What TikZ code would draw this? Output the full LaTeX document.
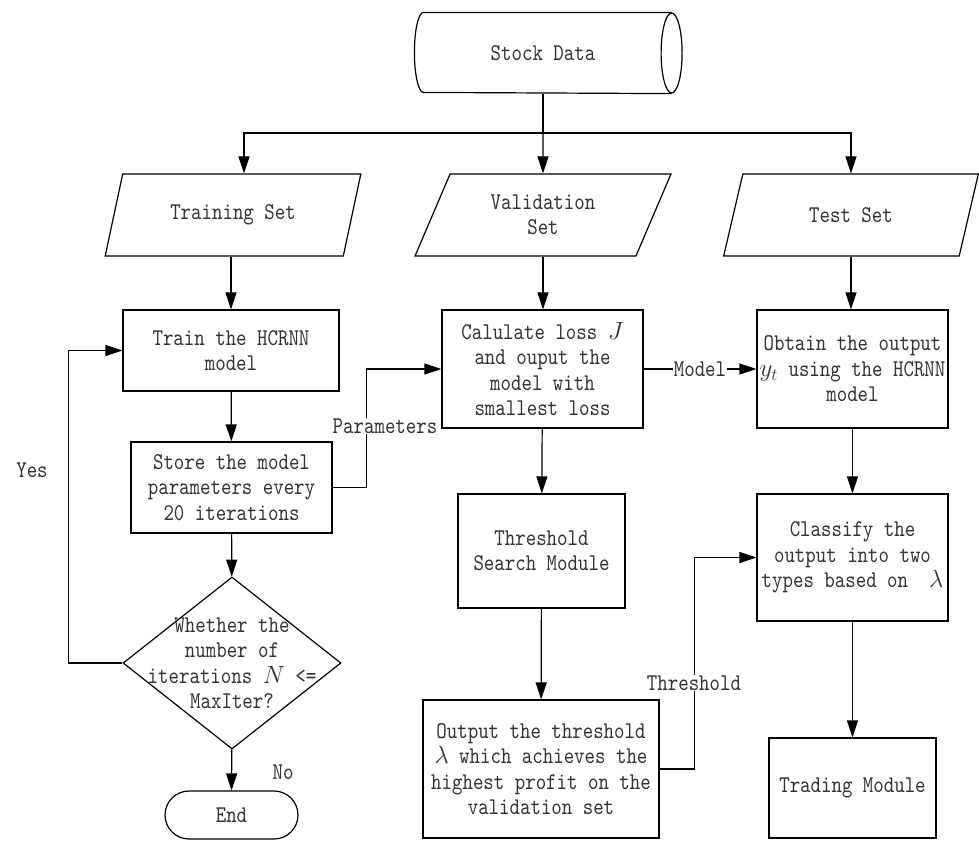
\documentclass[tikz,border=0pt]{standalone}
\usepackage{fontspec}
\usepackage{tikz}
\usetikzlibrary{shapes.geometric,arrows.meta,calc}
\newfontfamily\flowfont[FakeStretch=0.83]{lmmono10-regular.otf}
\definecolor{inkgray}{rgb}{0.2,0.2,0.2}

\begin{document}
\begin{tikzpicture}[x=1pt, y=-1pt, line width=1.2pt,
	every node/.style={font=\flowfont\fontsize{24}{25.5}\selectfont, text=inkgray, align=center},
	proc/.style={draw, rectangle, inner sep=0pt},
	dataio/.style={draw, trapezium, trapezium left angle=64, trapezium right angle=116,
		trapezium stretches=true, minimum width=256pt, minimum height=82pt, inner sep=0pt},
	arr/.style={-{Triangle[length=17pt,width=11pt]}},
	lbl/.style={fill=white, inner sep=1pt}]
	\useasboundingbox (0,0) rectangle (979,841);
	\node[minimum width=247pt, minimum height=80pt, inner sep=0pt] (stock) at (547.5,53) {};
	\node (stocktxt) at (543,53) {Stock Data};
	\draw (stock.north east) -- (stock.north west)
		arc[start angle=90, end angle=270, x radius=9pt, y radius=40pt] -- (stock.south east);
	\draw (stock.east) ellipse [x radius=10.5pt, y radius=40pt];
	\node[dataio] (trainset) at (233,215) {Training Set};
	\node[dataio] (valset) at (543,215) {Validation\\Set};
	\node[dataio] (testset) at (851,215) {Test Set};
	\node[proc, minimum width=216pt, minimum height=81pt] (train) at (231,350.5) {Train the HCRNN\\model};
	\node[proc, minimum width=201pt, minimum height=91pt] (store) at (231.5,487.5) {Store the model\\parameters every\\20 iterations};
	\node[draw, diamond, minimum width=218pt, minimum height=172pt, inner sep=0pt] (decide) at (232,663) {};
	\node (decidetxt) at (decide.center) {Whether the\\number of\\iterations $N$ <=\\MaxIter?};
	\node[draw, rectangle, rounded corners=24pt, minimum width=133pt, minimum height=48pt] (finish) at (231.5,815) {End};
	\node[proc, minimum width=201pt, minimum height=118pt] (calc) at (542.5,369) {Calulate loss $J$\\and ouput the\\model with\\smallest loss};
	\node[proc, minimum width=191pt, minimum height=118pt] (obtain) at (852.5,369) {Obtain the output\\$y_t$ using the HCRNN\\model};
	\node[proc, minimum width=167pt, minimum height=114pt] (search) at (541.5,551) {Threshold\\Search Module};
	\node[proc, minimum width=236pt, minimum height=138pt] (output) at (541,769) {Output the threshold\\$\lambda$ which achieves the\\highest profit on the\\validation set};
	\node[proc, minimum width=191pt, minimum height=127pt] (classify) at (852.5,557.5) {Classify the\\output into two\\types based on \ $\lambda$};
	\node[proc, minimum width=167pt, minimum height=100pt] (trading) at (852.5,788) {Trading Module};
	\coordinate (bus) at (543,133);
	\draw (stock.south -| bus) -- (bus);
	\draw[arr] (bus) -| ([xshift=11pt]trainset.north);
	\draw[arr] (bus) -- (valset.north);
	\draw[arr] (bus) -| (testset.north);
	\draw[arr] (train.north |- trainset.south) -- (train.north);
	\draw[arr] (valset.south) -- (calc.north -| valset.south);
	\draw[arr] (testset.south) -- (obtain.north -| testset.south);
	\draw[arr] (train) -- (store);
	\draw[arr] (store) -- (decide);
	\draw[arr] (decide) -- (finish);
	\draw[arr] (decide.west) -- ++(-54,0) |- (train.west);
	\node (yes) at (32,470) {Yes};
	\node (no) at (283,772) {No};
	\draw[arr] (store.east) -- ++(34,0) |- (calc.west);
	\node[lbl] (paramlbl) at (385,426) {Parameters};
	\draw[arr] (calc.east) -- node[lbl] (modellbl) {Model} (obtain.west);
	\draw[arr] (calc) -- (search);
	\draw[arr] (search) -- (output);
	\draw[arr] (obtain) -- (classify);
	\draw[arr] (classify) -- (trading);
	\draw[arr] (output.east) -- ++(35,0) |- (classify.west);
	\node[lbl] (threshlbl) at (694,683) {Threshold};
\end{tikzpicture}
\end{document}
